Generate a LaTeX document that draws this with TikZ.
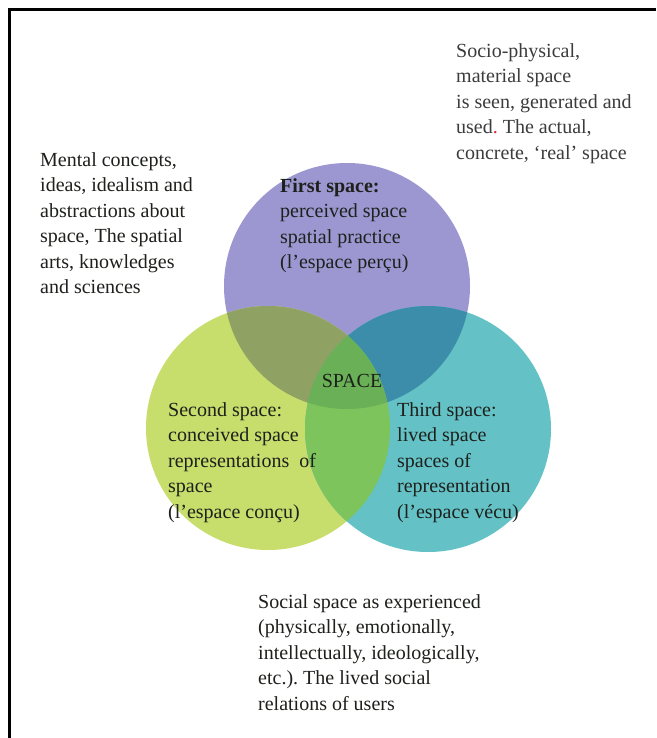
\documentclass[tikz,border=0pt]{standalone}
\usepackage{fontspec}
\setmainfont{Liberation Serif}
\frenchspacing
% region colours of the three-circle diagram
\definecolor{firstc}{RGB}{156,151,209}
\definecolor{secondc}{RGB}{199,221,108}
\definecolor{thirdc}{RGB}{100,194,198}
\definecolor{fsc}{RGB}{143,162,100}
\definecolor{ftc}{RGB}{60,141,170}
\definecolor{stc}{RGB}{126,196,92}
\definecolor{allc}{RGB}{106,176,86}
\definecolor{ink}{RGB}{30,32,28}
\definecolor{greyink}{RGB}{60,60,60}
\definecolor{dotred}{RGB}{220,40,50}
\begin{document}
\begin{tikzpicture}[x=1pt,y=-1pt,
  txt/.style={anchor=north west, inner sep=0pt, align=left,
    font=\fontsize{20}{25.5}\selectfont, text=ink}]
\useasboundingbox (0,0) rectangle (656,738);
\fill[white] (0,0) rectangle (656,738);
% frame (top and left edges)
\draw[line width=3.5pt] (656,9.5) -- (9.5,9.5) -- (9.5,738);

% circle centres
\coordinate (pc) at (347,286);
\coordinate (gc) at (268,428);
\coordinate (tc) at (428,429);
\def\rp{123pt}\def\rg{122pt}\def\rt{123pt}

% single circles
\fill[firstc]  (pc) circle[radius=\rp];
\fill[secondc] (gc) circle[radius=\rg];
\fill[thirdc]  (tc) circle[radius=\rt];
% pairwise overlaps
\begin{scope}
  \clip (pc) circle[radius=\rp];
  \fill[fsc] (gc) circle[radius=\rg];
  \fill[ftc] (tc) circle[radius=\rt];
\end{scope}
\begin{scope}
  \clip (gc) circle[radius=\rg];
  \fill[stc] (tc) circle[radius=\rt];
  \clip (pc) circle[radius=\rp];
  \fill[allc] (tc) circle[radius=\rt];
\end{scope}

% labels
\node[txt] (mental) at (40,152) {Mental concepts,\\ideas, idealism and\\abstractions about\\space, The spatial\\arts, knowledges\\and sciences};
\node[txt, text=greyink] (socio) at (456,43) {Socio-physical,\\material space\\is seen, generated and\\used{\color{dotred}.} The actual,\\concrete, ‘real’ space};
\node[txt] (first) at (280,178) {\textbf{First space:}\\perceived space\\spatial practice\\(l'espace perçu)};
\node[inner sep=0pt, font=\fontsize{20}{25.5}\selectfont, text=ink] (space) at (352,381) {SPACE};
\node[txt] (second) at (168,402) {Second space:\\conceived space\\representations\ \ of\\space\\(l'espace conçu)};
\node[txt] (third) at (397,402) {Third space:\\lived space\\spaces of\\representation\\(l'espace vécu)};
\node[txt] (social) at (258,594) {Social space as experienced\\(physically, emotionally,\\intellectually, ideologically,\\etc.). The lived social\\relations of users};
\end{tikzpicture}
\end{document}
